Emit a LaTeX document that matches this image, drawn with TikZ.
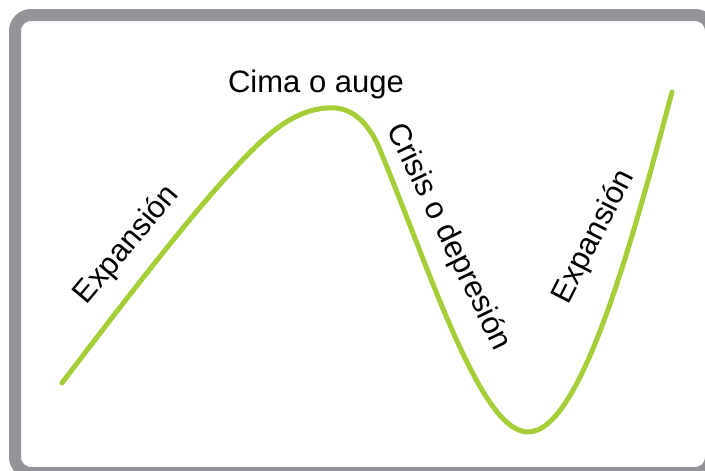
\documentclass[tikz,border=0pt]{standalone}
\usepackage{fontspec}
\setmainfont{Liberation Sans}
\definecolor{framegray}{RGB}{147,148,152}
\definecolor{cyclegreen}{RGB}{166,206,57}
\tikzset{
  phase/.style={font=\fontsize{31}{36}\selectfont, inner sep=0pt},
  cycle/.style={cyclegreen, line width=5, line cap=round}
}
\begin{document}
\begin{tikzpicture}[x=1pt,y=-1pt]
\useasboundingbox (0,0) rectangle (705,471);
\draw[framegray, line width=12, rounded corners=16] (15,15) rectangle (711,473);
\node[phase, rotate=50] (E1) at (127,245) {Expansión};
\node[phase, anchor=base] (C) at (316,92) {Cima o auge};
\node[phase, rotate=-64] (D) at (448,237) {Crisis o depresión};
\node[phase, rotate=63] (E2) at (594,237) {Expansión};
\draw[cycle] (62,383) .. controls (110,320) and (190,215) .. (235,168)
  .. controls (268,132) and (295,110) .. (327,108)
  .. controls (350,106) and (366,120) .. (378,145)
  .. controls (430,270) and (480,432) .. (528,432)
  .. controls (580,432) and (630,250) .. (672,92);
\end{tikzpicture}
\end{document}
